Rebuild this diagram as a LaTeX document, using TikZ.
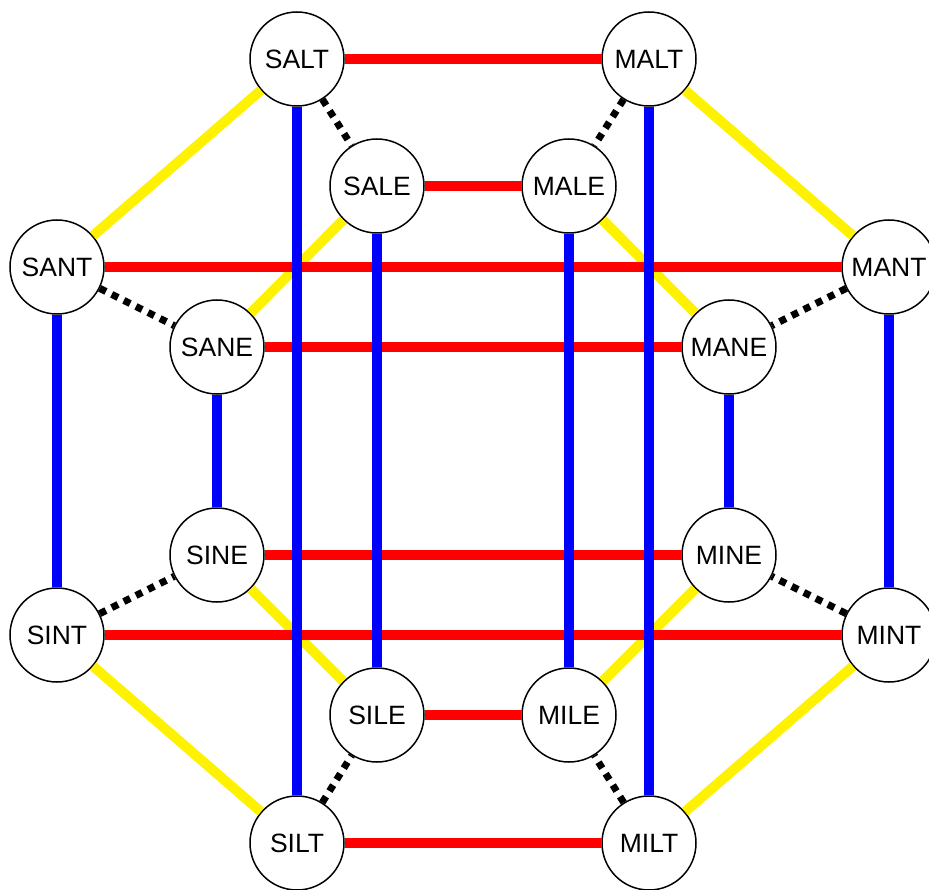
\documentclass[tikz,border=0pt]{standalone}
\usepackage{fontspec}
\setmainfont{Liberation Sans}
\begin{document}
\begin{tikzpicture}[x=1pt, y=-1pt,
		word/.style={circle, draw, line width=1.5pt, fill=white, minimum size=94pt, inner sep=0pt, font=\fontsize{26.5}{30}\selectfont},
		redline/.style={red, line width=10.5pt},
		blueline/.style={blue, line width=10.5pt},
		yellowline/.style={yellow, line width=10pt},
		dotline/.style={black, line width=7pt, dash pattern=on 7pt off 6.5pt}]
		\useasboundingbox (0,0) rectangle (929,890);
		
		\node[word] (salt) at (297,59) {SALT};
		\node[word] (malt) at (649,59) {MALT};
		\node[word] (sale) at (377,186) {SALE};
		\node[word] (male) at (569,186) {MALE};
		\node[word] (sant) at (57,267) {SANT};
		\node[word] (mant) at (889,267) {MANT};
		\node[word] (sane) at (217,347) {SANE};
		\node[word] (mane) at (729,347) {MANE};
		\node[word] (sine) at (217,555) {SINE};
		\node[word] (mine) at (729,555) {MINE};
		\node[word] (sint) at (57,635) {SINT};
		\node[word] (mint) at (889,635) {MINT};
		\node[word] (sile) at (377,715) {SILE};
		\node[word] (mile) at (569,715) {MILE};
		\node[word] (silt) at (297,843) {SILT};
		\node[word] (milt) at (649,843) {MILT};
		
		\draw[yellowline] (salt) -- (sant);
		\draw[yellowline] (sale) -- (sane);
		\draw[yellowline] (malt) -- (mant);
		\draw[yellowline] (male) -- (mane);
		\draw[yellowline] (sint) -- (silt);
		\draw[yellowline] (sine) -- (sile);
		\draw[yellowline] (mint) -- (milt);
		\draw[yellowline] (mine) -- (mile);
		
		\draw[redline] (salt) -- (malt);
		\draw[redline] (sale) -- (male);
		\draw[redline] (sant) -- (mant);
		\draw[redline] (sane) -- (mane);
		\draw[redline] (sine) -- (mine);
		\draw[redline] (sint) -- (mint);
		\draw[redline] (sile) -- (mile);
		\draw[redline] (silt) -- (milt);
		
		\draw[blueline] (salt) -- (silt);
		\draw[blueline] (malt) -- (milt);
		\draw[blueline] (sale) -- (sile);
		\draw[blueline] (male) -- (mile);
		\draw[blueline] (sant) -- (sint);
		\draw[blueline] (mant) -- (mint);
		\draw[blueline] (sane) -- (sine);
		\draw[blueline] (mane) -- (mine);
		
		\draw[dotline] (salt) -- (sale);
		\draw[dotline] (malt) -- (male);
		\draw[dotline] (sant) -- (sane);
		\draw[dotline] (mant) -- (mane);
		\draw[dotline] (sint) -- (sine);
		\draw[dotline] (mint) -- (mine);
		\draw[dotline] (silt) -- (sile);
		\draw[dotline] (milt) -- (mile);
	\end{tikzpicture}
\end{document}
